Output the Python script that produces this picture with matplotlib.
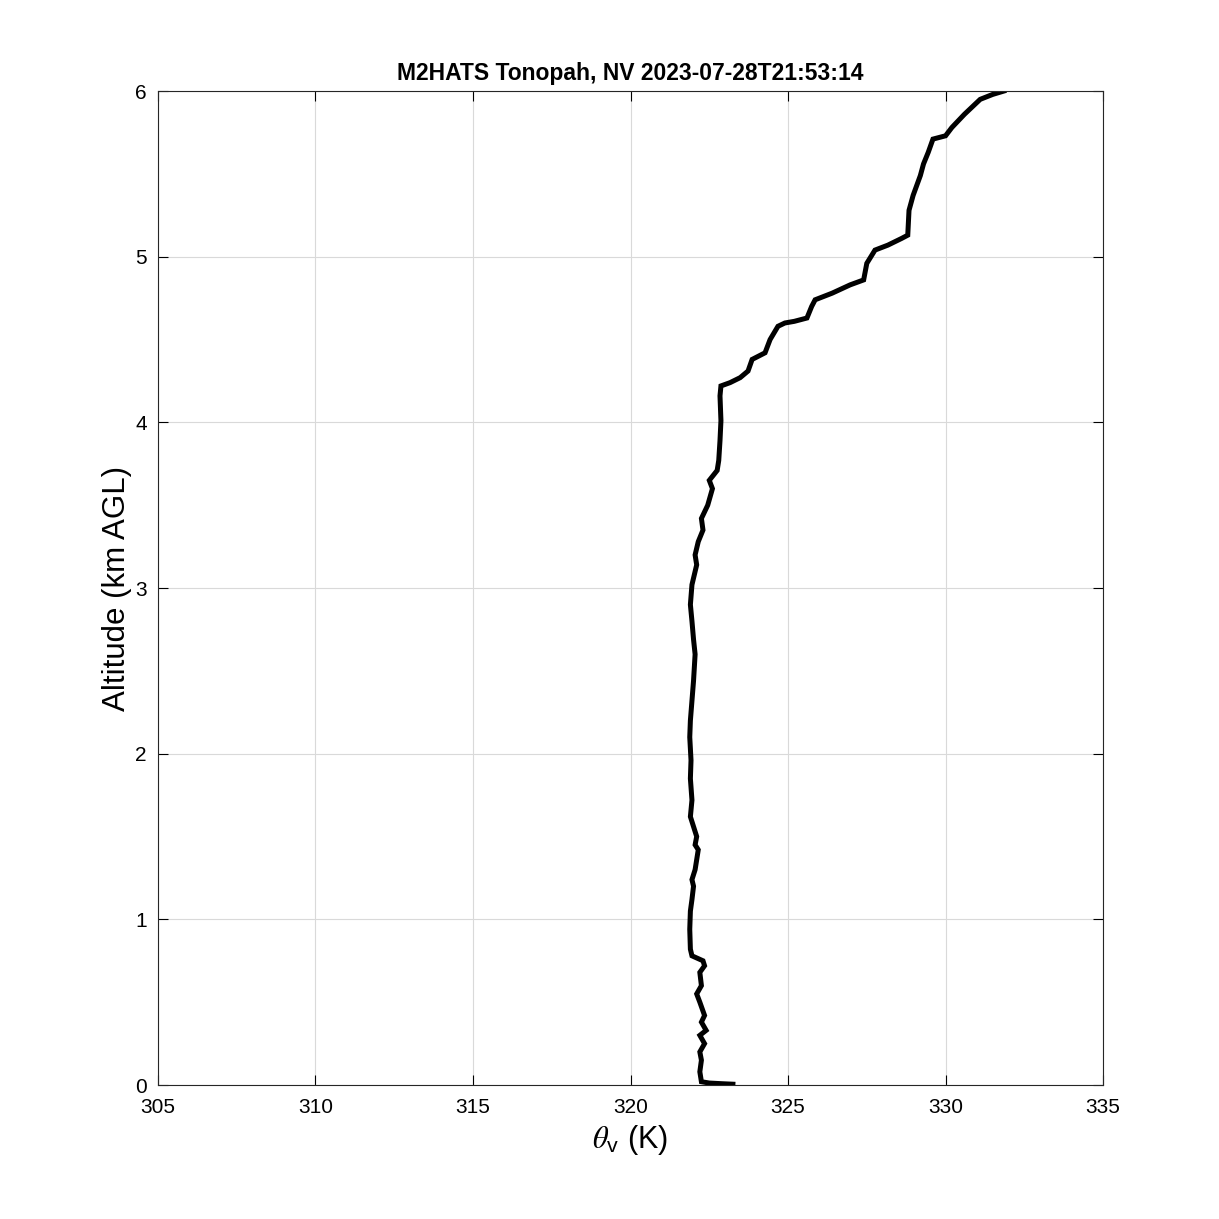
import matplotlib
matplotlib.use('Agg')
import matplotlib.pyplot as plt

plt.rcParams['font.family'] = ['Liberation Sans', 'DejaVu Sans']
plt.rcParams['mathtext.fontset'] = 'stix'

theta_v = [323.25, 322.9, 322.5, 322.25, 322.2, 322.25, 322.2, 322.35, 322.2, 322.4,
           322.25, 322.35, 322.2, 322.1, 322.25, 322.2, 322.35, 322.3, 321.95, 321.9,
           321.88, 321.9, 321.95, 322.0, 321.95, 322.05, 322.1, 322.15, 322.05, 322.1,
           322.0, 321.9, 321.95, 321.9, 321.92, 321.88, 321.9, 321.95, 322.0, 322.05,
           322.0, 321.95, 321.9, 321.95, 322.1, 322.05, 322.15, 322.3, 322.25, 322.45,
           322.6, 322.5, 322.75, 322.8, 322.84, 322.87, 322.84, 322.87, 323.16, 323.48,
           323.73, 323.86, 324.27, 324.43, 324.68, 324.9, 325.2, 325.6, 325.75, 325.86,
           326.4, 326.97, 327.4, 327.5, 327.76, 328.17, 328.6, 328.8, 328.84, 328.97,
           329.2, 329.3, 329.45, 329.6, 330.0, 330.2, 330.6, 331.1, 331.5, 331.85]
alt_km = [0.005, 0.008, 0.012, 0.02, 0.08, 0.15, 0.2, 0.25, 0.3, 0.33,
          0.38, 0.42, 0.5, 0.55, 0.6, 0.68, 0.72, 0.75, 0.78, 0.82,
          0.94, 1.05, 1.12, 1.2, 1.24, 1.3, 1.36, 1.42, 1.45, 1.5,
          1.56, 1.62, 1.72, 1.85, 1.96, 2.1, 2.2, 2.32, 2.44, 2.6,
          2.69, 2.8, 2.9, 3.02, 3.14, 3.2, 3.28, 3.35, 3.42, 3.5,
          3.6, 3.65, 3.71, 3.77, 3.89, 4.01, 4.16, 4.22, 4.24, 4.27,
          4.31, 4.38, 4.42, 4.50, 4.58, 4.60, 4.61, 4.63, 4.70, 4.74,
          4.78, 4.83, 4.86, 4.96, 5.04, 5.07, 5.11, 5.13, 5.28, 5.37,
          5.49, 5.56, 5.63, 5.71, 5.73, 5.78, 5.86, 5.95, 5.98, 6.0]

fig = plt.figure(figsize=(12.19, 12.19), dpi=100)
ax = fig.add_axes([0.1296, 0.1099, 0.7753, 0.8154])

ax.plot(theta_v, alt_km, color='black', linewidth=3.6, solid_joinstyle='miter')

ax.set_xlim(305, 335)
ax.set_ylim(0, 6)
ax.set_xticks(range(305, 336, 5))
ax.set_yticks(range(0, 7))
ax.grid(True, color='#d9d9d9', linewidth=0.8)
ax.set_axisbelow(True)
ax.tick_params(direction='in', top=True, right=True, labelsize=15, length=7, width=0.8)
ax.tick_params(axis='x', pad=9)
ax.tick_params(axis='y', pad=8)
for s in ax.spines.values():
    s.set_linewidth(0.8)
    s.set_color('#262626')

ax.set_title('M2HATS Tonopah, NV 2023-07-28T21:53:14', fontsize=16.5, fontweight='bold', pad=8)
ax.set_xlabel(r'$\theta_\mathregular{v}$ (K)', fontsize=22, labelpad=5)
ax.set_ylabel('Altitude (km AGL)', fontsize=22.5, labelpad=2)

fig.savefig('out.png', dpi=100)
